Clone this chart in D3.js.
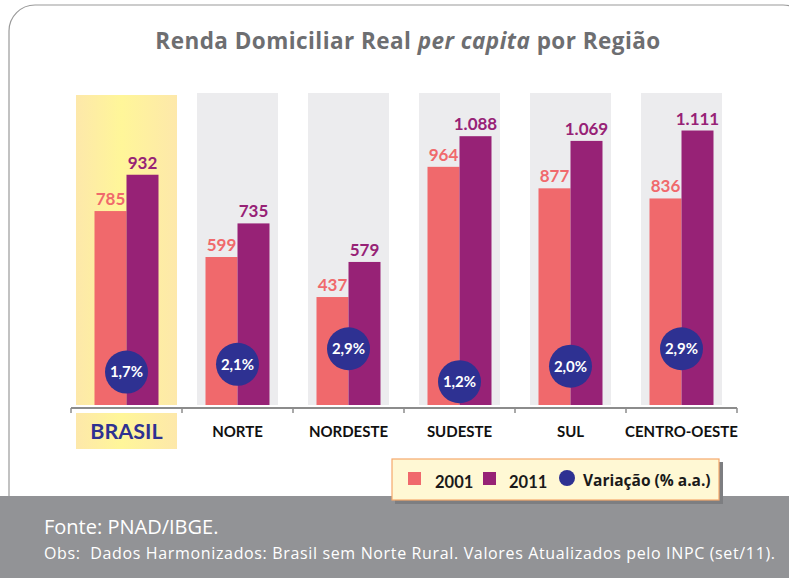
<!DOCTYPE html>
<html>
<head>
<meta charset="utf-8">
<script src="https://cdn.jsdelivr.net/npm/d3@7"></script>
<style>
  body { margin: 0; background: #fff; }
  svg { display: block; font-family: Lato, "Open Sans", sans-serif; }
</style>
</head>
<body>
<div id="chart"></div>
<script>
// data
var regioes = ['BRASIL', 'NORTE', 'NORDESTE', 'SUDESTE', 'SUL', 'CENTRO-OESTE'];
var renda2001 = [785, 599, 437, 964, 877, 836];
var renda2011 = [932, 735, 579, 1088, 1069, 1111];
var variacao = [1.7, 2.1, 2.9, 1.2, 2.0, 2.9];
var series = ['2001', '2011'];

var width = 789, height = 578;
var cor2001 = '#f0696c', cor2011 = '#972276', corVar = '#2e3192';

var br = d3.formatLocale({ decimal: ',', thousands: '.', grouping: [3], currency: ['R$', ''] });
var fmtVal = br.format(',d');
var fmtPct = br.format('.1f');

var svg = d3.select('#chart').append('svg')
  .attr('width', width)
  .attr('height', height);

var defs = svg.append('defs');
var grad = defs.append('linearGradient').attr('id', 'amarelo');
grad.append('stop').attr('offset', '0%').attr('stop-color', '#fde8aa');
grad.append('stop').attr('offset', '45%').attr('stop-color', '#fff699');
grad.append('stop').attr('offset', '100%').attr('stop-color', '#fde8aa');

// card outline
svg.append('rect')
  .attr('x', 9).attr('y', 5)
  .attr('width', 800).attr('height', 580)
  .attr('rx', 26)
  .attr('fill', '#fff')
  .attr('stroke', '#9a9a9a')
  .attr('stroke-width', 1.2);

svg.append('text')
  .attr('x', 408).attr('y', 48.5)
  .attr('text-anchor', 'middle')
  .attr('font-family', '"Open Sans", sans-serif')
  .attr('font-size', 22.5).attr('font-weight', 'bold')
  .attr('letter-spacing', 0.45)
  .attr('fill', '#6d6e71')
  .call(function (t) {
    t.append('tspan').text('Renda Domiciliar Real ');
    t.append('tspan').attr('font-style', 'italic').text('per capita');
    t.append('tspan').text(' por Região');
  });

// scales
var x = d3.scaleBand().domain(regioes).range([71, 737]);
var xs = d3.scaleBand().domain(series).range([0, 64]);
var y = d3.scaleLinear().domain([0, 1275]).range([405, 90]);
var y2 = d3.scaleLinear().domain([0, 16.24]).range([405, 90]);

// column backgrounds
var fundo = svg.append('g');
regioes.forEach(function (r, i) {
  var w = i === 0 ? 101 : 81;
  fundo.append('rect')
    .attr('x', x(r) + x.bandwidth() / 2 - w / 2)
    .attr('y', i === 0 ? 95 : 93)
    .attr('width', w)
    .attr('height', 405 - (i === 0 ? 95 : 93))
    .attr('fill', i === 0 ? 'url(#amarelo)' : '#ececee');
});

// label box for BRASIL
svg.append('rect')
  .attr('x', x('BRASIL') + x.bandwidth() / 2 - 50.5)
  .attr('y', 413).attr('width', 101).attr('height', 36)
  .attr('fill', 'url(#amarelo)');

// bars
var grupos = svg.append('g').selectAll('g')
  .data(regioes)
  .join('g')
  .attr('transform', function (d) { return 'translate(' + (x(d) + x.bandwidth() / 2 - 32) + ',0)'; });

var valores = function (d, i) {
  return [{ s: '2001', v: renda2001[i] }, { s: '2011', v: renda2011[i] }];
};

grupos.selectAll('rect')
  .data(valores)
  .join('rect')
  .attr('x', function (d) { return xs(d.s); })
  .attr('width', xs.bandwidth())
  .attr('y', function (d) { return y(d.v); })
  .attr('height', function (d) { return y(0) - y(d.v); })
  .attr('fill', function (d) { return d.s === '2001' ? cor2001 : cor2011; });

grupos.selectAll('text')
  .data(valores)
  .join('text')
  .attr('x', function (d) { return xs(d.s) + xs.bandwidth() / 2; })
  .attr('y', function (d) { return y(d.v) - 6; })
  .attr('text-anchor', 'middle')
  .attr('font-size', 17).attr('font-weight', 'bold')
  .attr('fill', function (d) { return d.s === '2001' ? '#f0696c' : '#972276'; })
  .text(function (d) { return fmtVal(d.v); });

// variation bubbles
var bolhas = svg.append('g').selectAll('g')
  .data(regioes)
  .join('g')
  .attr('transform', function (d, i) {
    return 'translate(' + (x(d) + x.bandwidth() / 2) + ',' + y2(variacao[i]) + ')';
  });
bolhas.append('circle').attr('r', 21.5).attr('fill', corVar);
bolhas.append('text')
  .attr('text-anchor', 'middle').attr('dy', '0.36em')
  .attr('font-size', 15).attr('font-weight', 'bold')
  .attr('fill', '#fff')
  .text(function (d, i) { return fmtPct(variacao[i]) + '%'; });

// axis
var eixo = svg.append('g').attr('transform', 'translate(0,408)');
eixo.append('line')
  .attr('x1', 71).attr('x2', 737)
  .attr('stroke', '#8c8c8c').attr('stroke-width', 2);
eixo.selectAll('.tick')
  .data(regioes.concat(['fim']))
  .join('line')
  .attr('x1', function (d, i) { return 71 + i * x.step(); })
  .attr('x2', function (d, i) { return 71 + i * x.step(); })
  .attr('y1', 0).attr('y2', 5)
  .attr('stroke', '#8c8c8c').attr('stroke-width', 1.5);

svg.append('g').selectAll('text')
  .data(regioes)
  .join('text')
  .attr('x', function (d) { return x(d) + x.bandwidth() / 2; })
  .attr('y', function (d, i) { return i === 0 ? 439 : 437; })
  .attr('text-anchor', 'middle')
  .attr('font-weight', 'bold')
  .attr('font-size', function (d, i) { return i === 0 ? 21.5 : 15; })
  .attr('fill', function (d, i) { return i === 0 ? corVar : '#111'; })
  .text(function (d) { return d; });

// footer band
svg.append('rect')
  .attr('x', 0).attr('y', 496)
  .attr('width', width).attr('height', 82)
  .attr('fill', '#929396');

svg.append('text')
  .attr('x', 44).attr('y', 534)
  .attr('font-family', '"Open Sans", sans-serif')
  .attr('font-size', 20).attr('fill', '#fff')
  .text('Fonte: PNAD/IBGE.');
svg.append('text')
  .attr('x', 44).attr('y', 558.5)
  .attr('font-family', '"Open Sans", sans-serif')
  .attr('font-size', 16).attr('fill', '#fff')
  .attr('letter-spacing', 0.65)
  .attr('xml:space', 'preserve')
  .text('Obs:  Dados Harmonizados: Brasil sem Norte Rural. Valores Atualizados pelo INPC (set/11).');

// legend
var leg = svg.append('g').attr('transform', 'translate(392,459)');
leg.append('rect')
  .attr('x', 3).attr('y', 3).attr('width', 328).attr('height', 42)
  .attr('fill', '#7d7e81');
leg.append('rect')
  .attr('width', 327).attr('height', 41)
  .attr('fill', '#fff8d4')
  .attr('stroke', '#f6a96c').attr('stroke-width', 1.2);
leg.append('rect').attr('x', 16).attr('y', 13).attr('width', 13).attr('height', 13).attr('fill', cor2001);
leg.append('text').attr('x', 43).attr('y', 29).attr('font-size', 16.5).attr('font-weight', 'bold').attr('fill', '#1a1a1a').text(series[0]);
leg.append('rect').attr('x', 91).attr('y', 13).attr('width', 13).attr('height', 13).attr('fill', cor2011);
leg.append('text').attr('x', 117).attr('y', 29).attr('font-size', 16.5).attr('font-weight', 'bold').attr('fill', '#1a1a1a').text(series[1]);
leg.append('circle').attr('cx', 175).attr('cy', 19).attr('r', 8).attr('fill', corVar);
leg.append('text').attr('x', 191).attr('y', 27)
  .attr('font-family', '"Open Sans", sans-serif')
  .attr('font-size', 15.5).attr('font-weight', 'bold').attr('fill', '#1a1a1a').text('Variação (% a.a.)');
</script>
</body>
</html>
